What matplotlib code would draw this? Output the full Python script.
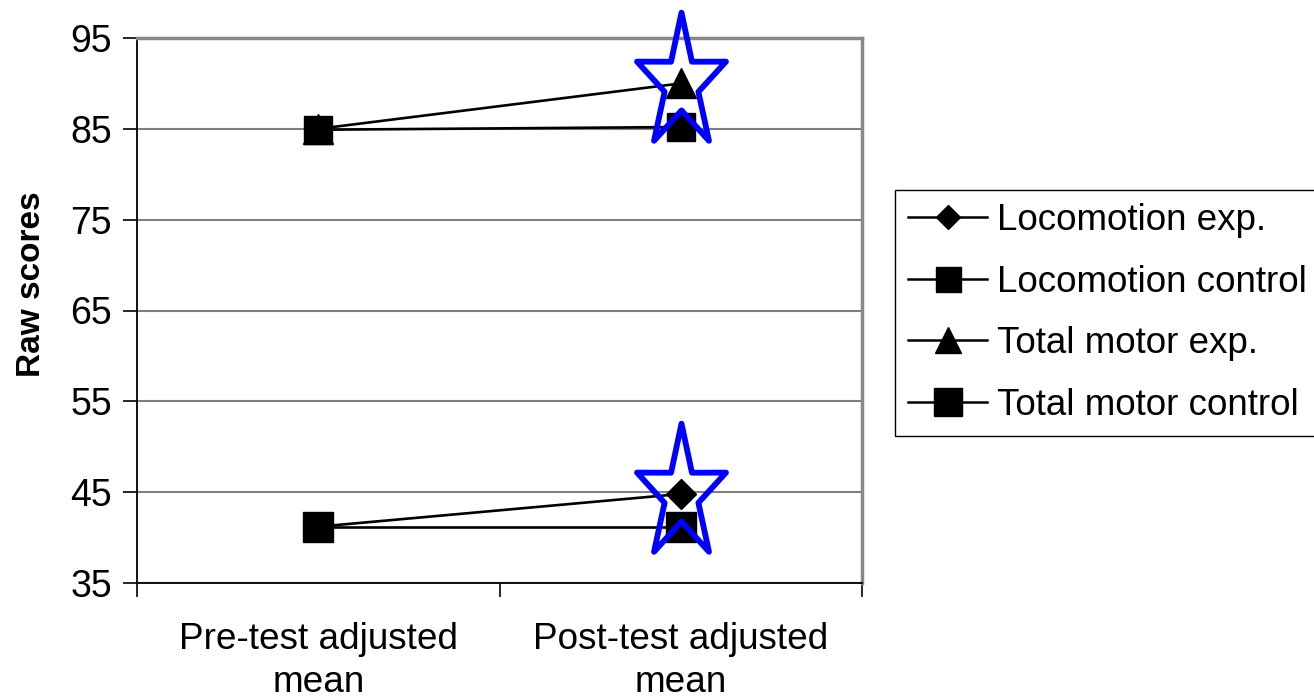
import matplotlib.pyplot as plt
from matplotlib.lines import Line2D
from matplotlib.path import Path
import numpy as np

plt.rcParams['font.family'] = ['Liberation Sans', 'DejaVu Sans']

# Donnees
categories = ["Pre-test adjusted\nmean", "Post-test adjusted\nmean"]
series_names = ["Locomotion exp.", "Locomotion control", "Total motor exp.", "Total motor control"]
loco_exp = [41.2, 44.8]
loco_ctrl = [41.2, 41.2]
total_exp = [85.0, 90.0]
total_ctrl = [84.9, 85.2]
# points marques d'une etoile (effet significatif)
star_values = [total_exp[1], loco_exp[1]]

# etoile un peu allongee verticalement
ang = np.pi / 2 + np.arange(10) * np.pi / 5
rad = np.where(np.arange(10) % 2 == 0, 1.0, 0.38)
sx = 0.66 * rad * np.cos(ang)
sy = rad * np.sin(ang)
verts = list(zip(sx, sy)) + [(sx[0], sy[0])]
codes = [Path.MOVETO] + [Path.LINETO] * 9 + [Path.CLOSEPOLY]
star = Path(verts, codes)

fig = plt.figure(figsize=(13.14, 7.0), dpi=100)
ax = fig.add_axes([137 / 1314, 1 - 583 / 700, 725 / 1314, 545 / 700])

x = [0.5, 1.5]
ax.plot(x, loco_exp, color='black', lw=1.9, marker='D', ms=15, zorder=3)
ax.plot(x, loco_ctrl, color='black', lw=1.9, marker='s', ms=21, zorder=3)
ax.plot(x, total_exp, color='black', lw=1.9, marker='^', ms=22, zorder=3)
ax.plot(x, total_ctrl, color='black', lw=1.9, marker='s', ms=20, zorder=3)

ax.plot([x[1]] * 2, star_values, ls='none', marker=star, ms=102,
        mfc='none', mec='#0000ff', mew=4.2, zorder=4, clip_on=False)

ax.set_xlim(0, 2)
ax.set_ylim(35, 95)
ax.set_yticks(range(35, 96, 10))
ax.set_xticks([0, 1, 2])
ax.set_xticklabels([])
ax.set_xticks(x, minor=True)
ax.set_xticklabels(categories, minor=True, fontsize=26.6, linespacing=1.3)
ax.tick_params(axis='x', which='minor', length=0, pad=28)
ax.tick_params(axis='x', which='major', length=10, width=1.2, direction='out')
ax.tick_params(axis='y', length=10, width=1.2, labelsize=27, pad=8)

ax.grid(axis='y', color='#808080', lw=1.5, zorder=1)
ax.set_axisbelow(True)
for s in ['top', 'right']:
    ax.spines[s].set_color('#888888')
    ax.spines[s].set_linewidth(2.5)
for s in ['left', 'bottom']:
    ax.spines[s].set_color('black')
    ax.spines[s].set_linewidth(1.3)

ax.set_ylabel("Raw scores", fontsize=24, fontweight='bold')
ax.yaxis.set_label_coords(-0.124, 0.549)

handles = [
    Line2D([], [], color='black', lw=1.8, marker='D', ms=12),
    Line2D([], [], color='black', lw=1.8, marker='s', ms=18),
    Line2D([], [], color='black', lw=1.8, marker='^', ms=19),
    Line2D([], [], color='black', lw=1.8, marker='s', ms=20),
]
leg = fig.legend(handles, series_names, loc='upper left',
                 bbox_to_anchor=(895 / 1314, 1 - 190 / 700), fontsize=26.5,
                 frameon=True, fancybox=False, edgecolor='black',
                 handlelength=2.15, handletextpad=0.25, labelspacing=0.72,
                 borderpad=0.36, borderaxespad=0, framealpha=1)
leg.get_frame().set_linewidth(1.0)

fig.savefig('out.png', dpi=100)
